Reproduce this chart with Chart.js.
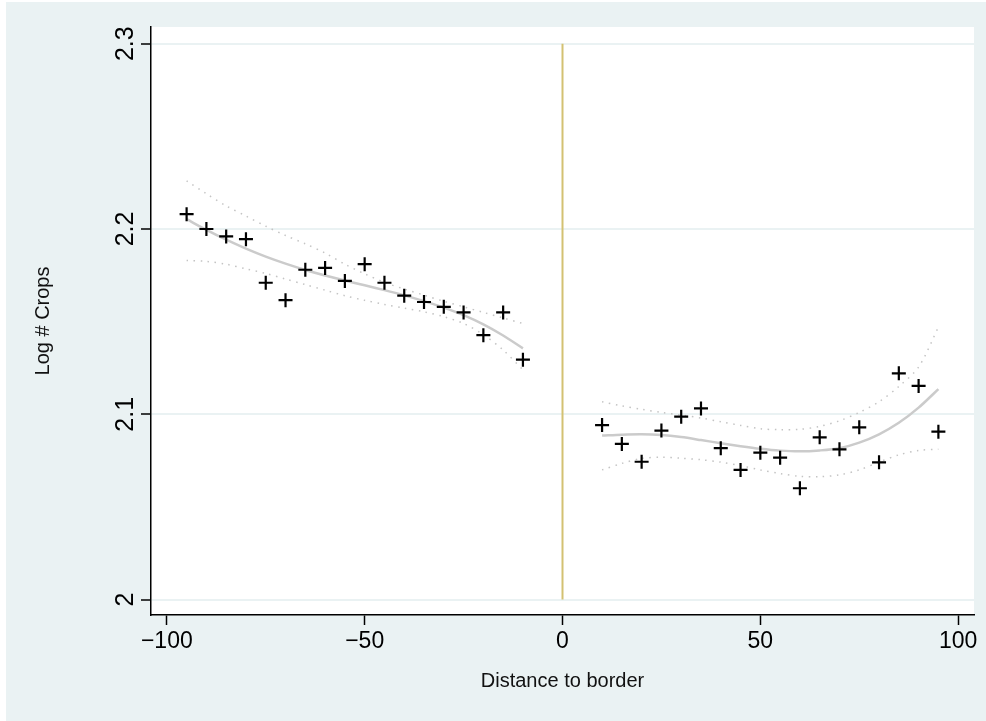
<!DOCTYPE html>
<html>
<head>
<meta charset="utf-8">
<style>
  body { margin: 0; background: #ffffff; }
  canvas { display: block; background: #eaf2f3; }
</style>
</head>
<body>
<canvas id="rdChart" width="986" height="721"></canvas>

<script src="https://cdn.jsdelivr.net/npm/chart.js"></script>
<script>
  // binned means, left and right of the border
  const distLeft = [-95, -90, -85, -80, -75, -70, -65, -60, -55, -50, -45, -40, -35, -30, -25, -20, -15, -10];
  const meanLeft = [2.208, 2.200, 2.196, 2.1945, 2.171, 2.1616, 2.178, 2.179, 2.172, 2.181, 2.171, 2.164, 2.1606, 2.158, 2.155, 2.1427, 2.155, 2.1295];
  const fitLeft = [2.2053, 2.1995, 2.1942, 2.1894, 2.1851, 2.1813, 2.1779, 2.1749, 2.1722, 2.1696, 2.1670, 2.1642, 2.1611, 2.1576, 2.1535, 2.1485, 2.1425, 2.1356];
  const ciHighLeft = [2.226, 2.2190, 2.2125, 2.207, 2.2015, 2.1965, 2.192, 2.187, 2.181, 2.1758, 2.1712, 2.1676, 2.1643, 2.161, 2.158, 2.155, 2.152, 2.149];
  const ciLowLeft = [2.183, 2.1825, 2.181, 2.1785, 2.176, 2.173, 2.170, 2.167, 2.164, 2.1615, 2.1593, 2.1573, 2.1553, 2.1527, 2.149, 2.143, 2.1347, 2.124];

  const distRight = [10, 15, 20, 25, 30, 35, 40, 45, 50, 55, 60, 65, 70, 75, 80, 85, 90, 95];
  const meanRight = [2.0942, 2.084, 2.0744, 2.0912, 2.0987, 2.1032, 2.0817, 2.070, 2.0793, 2.0766, 2.0601, 2.0876, 2.0811, 2.093, 2.0741, 2.1221, 2.1153, 2.0906];
  const fitRight = [2.0885, 2.0890, 2.0892, 2.0888, 2.0877, 2.0861, 2.0844, 2.0828, 2.0814, 2.0804, 2.0800, 2.0805, 2.0817, 2.0847, 2.0892, 2.0954, 2.1036, 2.1136];
  const ciHighRight = [2.1068, 2.1045, 2.1027, 2.101, 2.0996, 2.098, 2.096, 2.094, 2.0922, 2.0917, 2.0919, 2.0935, 2.0965, 2.101, 2.1068, 2.115, 2.1255, 2.147];
  const ciLowRight = [2.070, 2.0735, 2.0762, 2.0768, 2.0763, 2.0755, 2.0742, 2.0723, 2.070, 2.068, 2.0665, 2.0663, 2.0673, 2.070, 2.0742, 2.0781, 2.0805, 2.0811];

  const borderX = [0, 0];
  const borderY = [2, 2.3];

  const xTicks = [-100, -50, 0, 50, 100];
  const yTicks = [2, 2.1, 2.2, 2.3];

  const pts = (xs, ys) => xs.map((x, i) => ({ x: x, y: ys[i] }));

  const fitStyle = { showLine: true, pointRadius: 0, borderColor: '#cbcbcb', borderWidth: 2.5, tension: 0.3, fill: false };
  const ciStyle = { showLine: true, pointRadius: 0, borderColor: '#c4c4c4', borderWidth: 1.5, borderDash: [1.5, 5.5], tension: 0.3, fill: false };

  const plotBg = {
    id: 'plotBg',
    beforeDraw(chart) {
      const a = chart.chartArea;
      const ctx = chart.ctx;
      ctx.save();
      ctx.fillStyle = '#ffffff';
      // thin white margin on the outer edge, then the plot region
      ctx.fillRect(0, 0, chart.width, 2);
      ctx.fillRect(0, 0, 6, chart.height);
      ctx.fillRect(a.left, a.top, a.right - a.left, a.bottom - a.top);
      ctx.restore();
    }
  };

  const font = 'Helvetica, "Liberation Sans", Arial, sans-serif';

  new Chart(document.getElementById('rdChart'), {
    type: 'scatter',
    data: {
      datasets: [
        { label: 'means left', data: pts(distLeft, meanLeft), pointStyle: 'cross', pointRadius: 7, borderColor: '#000', borderWidth: 2.2, order: 0 },
        { label: 'means right', data: pts(distRight, meanRight), pointStyle: 'cross', pointRadius: 7, borderColor: '#000', borderWidth: 2.2, order: 0 },
        { label: 'border', data: pts(borderX, borderY), showLine: true, pointRadius: 0, borderColor: '#d3c172', borderWidth: 2, order: 1 },
        Object.assign({ label: 'fit left', data: pts(distLeft, fitLeft), order: 2 }, fitStyle),
        Object.assign({ label: 'fit right', data: pts(distRight, fitRight), order: 2 }, fitStyle),
        Object.assign({ label: 'ci high left', data: pts(distLeft, ciHighLeft), order: 3 }, ciStyle),
        Object.assign({ label: 'ci low left', data: pts(distLeft, ciLowLeft), order: 3 }, ciStyle),
        Object.assign({ label: 'ci high right', data: pts(distRight, ciHighRight), order: 3 }, ciStyle),
        Object.assign({ label: 'ci low right', data: pts(distRight, ciLowRight), order: 3 }, ciStyle)
      ]
    },
    options: {
      responsive: false,
      animation: false,
      layout: { padding: { left: 0, right: 12, top: 27, bottom: 0 } },
      plugins: {
        legend: { display: false },
        tooltip: { enabled: false }
      },
      scales: {
        x: {
          type: 'linear',
          min: -104,
          max: 104,
          afterBuildTicks: scale => { scale.ticks = xTicks.map(v => ({ value: v })); },
          afterFit: scale => { scale.height = 106; },
          grid: { drawOnChartArea: false, drawTicks: true, tickLength: 10, tickColor: '#000', tickWidth: 1.5 },
          border: { display: true, color: '#000', width: 1.5 },
          ticks: {
            color: '#000',
            padding: 3,
            font: { family: font, size: 23 },
            maxRotation: 0,
            callback: v => String(v).replace('-', '\u2212')
          },
          title: {
            display: true,
            text: 'Distance to border',
            color: '#111',
            font: { family: font, size: 20, lineHeight: 1.2 },
            padding: { top: 0, bottom: 28 }
          }
        },
        y: {
          type: 'linear',
          min: 1.9917,
          max: 2.309,
          afterBuildTicks: scale => { scale.ticks = yTicks.map(v => ({ value: v })); },
          afterFit: scale => { scale.width = 151; },
          grid: { drawOnChartArea: true, color: '#eaf2f3', lineWidth: 2, drawTicks: true, tickLength: 10, tickColor: '#000', tickWidth: 1.5 },
          border: { display: true, color: '#000', width: 1.5 },
          ticks: {
            color: '#000',
            padding: -2,
            crossAlign: 'center',
            minRotation: 90,
            maxRotation: 90,
            font: { family: font, size: 25 },
            callback: v => String(v)
          },
          title: {
            display: true,
            text: 'Log # Crops',
            color: '#111',
            font: { family: font, size: 20, lineHeight: 1.2 },
            padding: { top: 31, bottom: 0 }
          }
        }
      }
    },
    plugins: [plotBg]
  });
</script>
</body>
</html>
